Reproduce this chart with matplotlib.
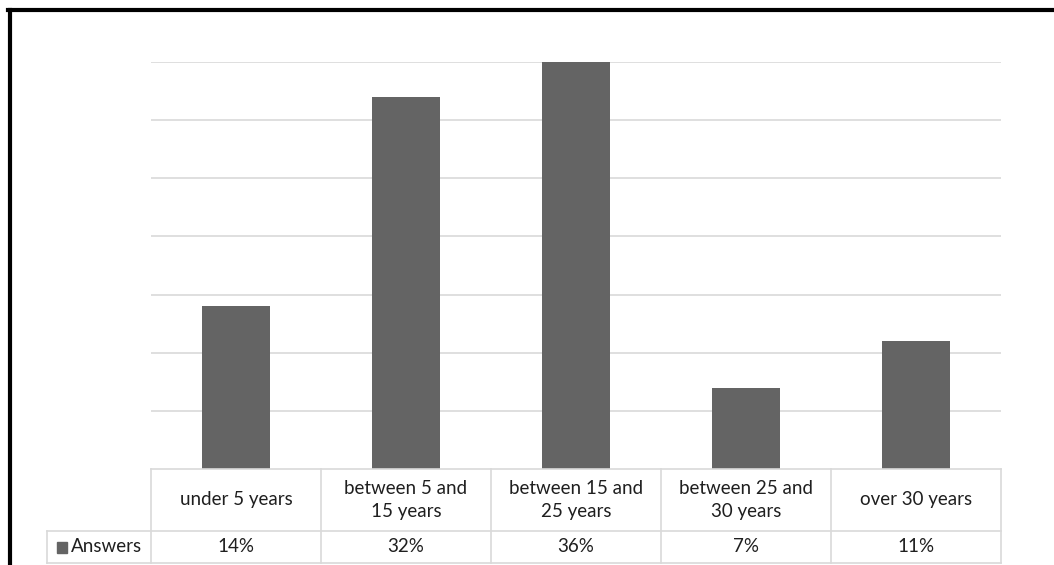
import matplotlib.pyplot as plt
import matplotlib.patches as mpatches
from matplotlib.lines import Line2D
import numpy as np

plt.rcParams['font.family'] = ['Lato', 'DejaVu Sans']

categories = ["under 5 years", "between 5 and\n15 years", "between 15 and\n25 years",
              "between 25 and\n30 years", "over 30 years"]
answers = [0.14, 0.32, 0.36, 0.07, 0.11]
answer_labels = ["14%", "32%", "36%", "7%", "11%"]
series_name = "Answers"

bar_color = "#646464"
grid_color = "#d9d9d9"
text_color = "#1f1f1f"
fs = 13.5

W, H = 1054, 565
fig = plt.figure(figsize=(W / 100, H / 100), dpi=100)
ax = fig.add_axes([151 / W, 1 - 469 / H, 850 / W, 407 / H])

x = np.arange(len(categories))
ax.bar(x, answers, width=0.4, color=bar_color, zorder=2)

ax.set_xlim(-0.5, len(categories) - 0.5)
ax.set_ylim(0, 0.35)
ax.set_yticks(np.arange(0.05, 0.351, 0.05))
ax.yaxis.grid(True, color=grid_color, linewidth=1.2)
ax.set_axisbelow(True)
ax.tick_params(left=False, bottom=False, labelleft=False, labelbottom=False)
for s in ax.spines.values():
    s.set_visible(False)

# data table under the plot (x in data units, y in axes fraction)
tr = ax.get_xaxis_transform()
row1 = -62 / 407
row2 = -94 / 407
left_edge = -0.5 - 104 / 170
edges = np.arange(-0.5, len(categories), 1.0)

def hline(x0, x1, y):
    ax.add_line(Line2D([x0, x1], [y, y], transform=tr, color=grid_color,
                       linewidth=1.2, clip_on=False))

def vline(xx, y0, y1):
    ax.add_line(Line2D([xx, xx], [y0, y1], transform=tr, color=grid_color,
                       linewidth=1.2, clip_on=False))

hline(-0.5, edges[-1], 0)
hline(left_edge, edges[-1], row1)
hline(left_edge, edges[-1], row2)
for e in edges:
    vline(e, 0, row2)
vline(left_edge, row1, row2)

for i, (cat, lab) in enumerate(zip(categories, answer_labels)):
    ax.text(i, row1 / 2, cat, transform=tr, ha="center", va="center",
            fontsize=fs, color=text_color, linespacing=1.5)
    ax.text(i, (row1 + row2) / 2, lab, transform=tr, ha="center", va="center",
            fontsize=fs, color=text_color)

# legend key in the row header
key_w = 10 / 170
key_h = 11 / 407
ax.add_patch(mpatches.Rectangle((left_edge + 10 / 170, (row1 + row2) / 2 - key_h / 2),
                                key_w, key_h, transform=tr, color=bar_color,
                                clip_on=False))
ax.text(left_edge + 24 / 170, (row1 + row2) / 2, series_name, transform=tr,
        ha="left", va="center", fontsize=fs, color=text_color)

# frame around the chart area
fig.add_artist(Line2D([10 / W, 10 / W], [0, 1 - 10 / H], color="black", linewidth=3))
fig.add_artist(Line2D([8 / W, 1], [1 - 10 / H, 1 - 10 / H], color="black", linewidth=3))

fig.savefig("out.png", dpi=100)
